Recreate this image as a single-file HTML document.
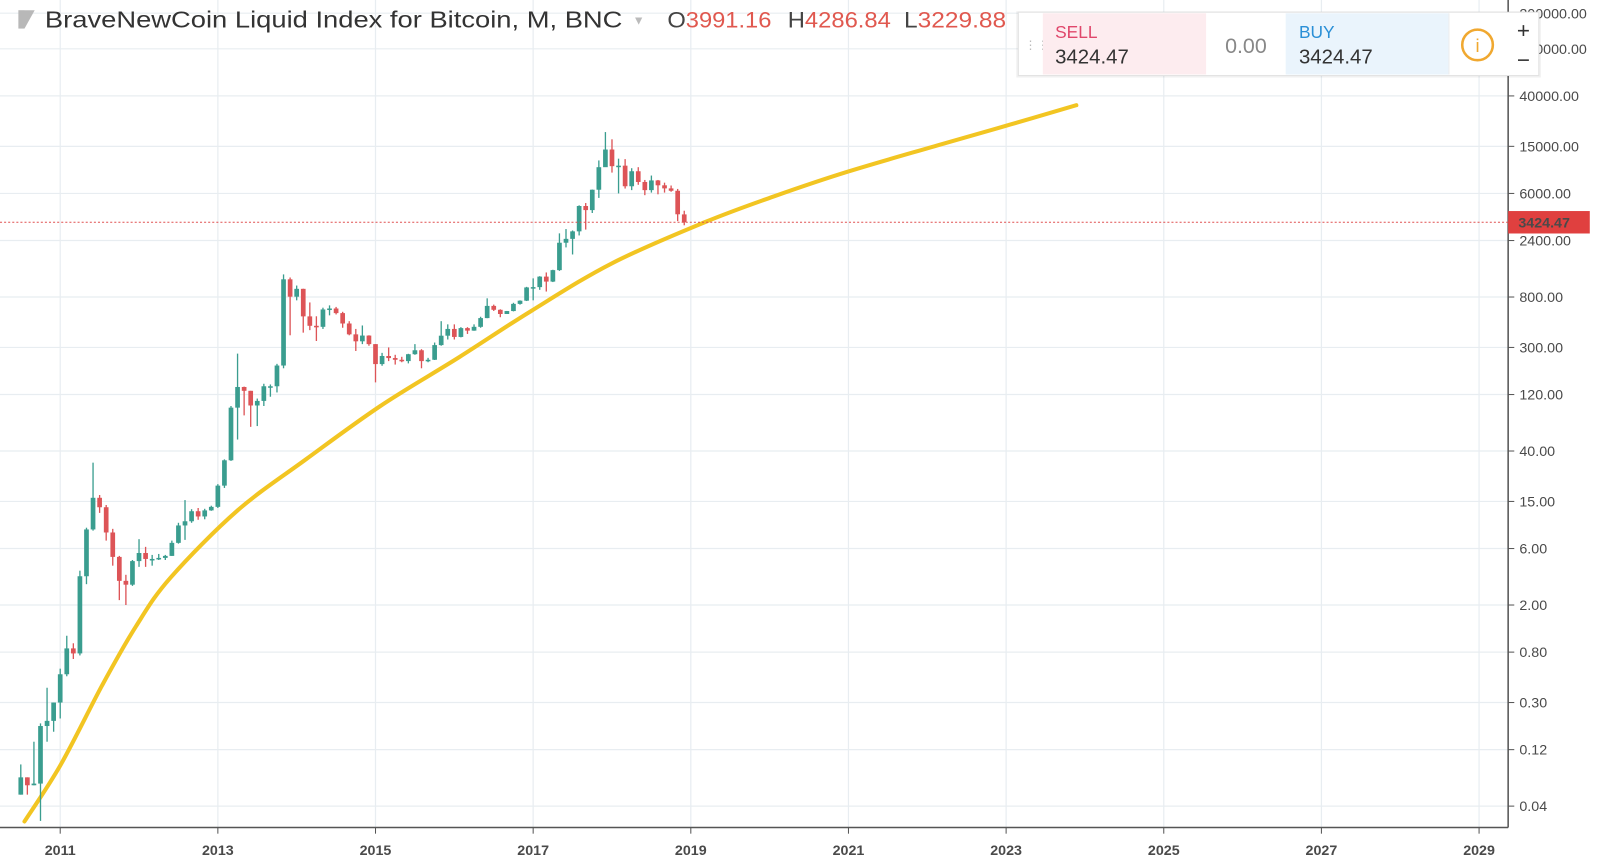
<!DOCTYPE html>
<html><head><meta charset="utf-8"><style>
html,body{margin:0;padding:0;background:#fff;width:1600px;height:862px;overflow:hidden;font-family:"Liberation Sans",sans-serif}
svg{position:absolute;left:0;top:0}
.ax{font-family:"Liberation Sans",sans-serif;font-size:14px;fill:#4a4a4a}
</style></head><body>
<svg id="chart" width="1600" height="862">
 <g transform="scale(1.0204)">
  <g id="grid"></g>
  <g id="curve"></g>
  <g id="candles"></g>
  <g id="axes"></g>
  <g>
    <rect x="18" y="10" width="6" height="18" fill="#b8b8b8"/>
    <polygon points="24,10 34,10 24,28" fill="#b8b8b8"/>
    <text x="44" y="27" font-size="23" fill="#333" textLength="566" lengthAdjust="spacingAndGlyphs">BraveNewCoin Liquid Index for Bitcoin, M, BNC</text>
    <text x="620" y="24" font-size="12" fill="#bbb">▼</text>
    <text x="654" y="27" font-size="22" fill="#444" textLength="102" lengthAdjust="spacingAndGlyphs">O<tspan fill="#e0584f">3991.16</tspan></text>
    <text x="772" y="27" font-size="22" fill="#444" textLength="101" lengthAdjust="spacingAndGlyphs">H<tspan fill="#e0584f">4286.84</tspan></text>
    <text x="886" y="27" font-size="22" fill="#444" textLength="100" lengthAdjust="spacingAndGlyphs">L<tspan fill="#e0584f">3229.88</tspan></text>
  </g>
  <g>
    <rect x="996" y="11" width="514" height="65" fill="#000" opacity="0.06"/>
    <rect x="998" y="12" width="510" height="62" fill="#fff" stroke="#e3e3e3"/>
    <text x="1004" y="48" font-size="12" fill="#bbb">⋮⋮</text>
    <rect x="1022" y="13" width="160" height="60" fill="#fdecef"/>
    <text x="1034" y="37" font-size="17" fill="#e0476b">SELL</text>
    <text x="1034" y="62" font-size="20" fill="#333">3424.47</text>
    <text x="1221" y="52" font-size="21" fill="#888" text-anchor="middle">0.00</text>
    <rect x="1260" y="13" width="160" height="60" fill="#eaf4fc"/>
    <text x="1273" y="37" font-size="17" fill="#2a8fd6">BUY</text>
    <text x="1273" y="62" font-size="20" fill="#333">3424.47</text>
    <line x1="1420" y1="13" x2="1420" y2="73" stroke="#eee"/>
    <circle cx="1448" cy="44" r="15" fill="none" stroke="#f0a830" stroke-width="2.5"/>
    <text x="1448" y="51" font-size="18" fill="#f0a830" text-anchor="middle">i</text>
    <text x="1493" y="37" font-size="22" fill="#333" text-anchor="middle">+</text>
    <text x="1493" y="66" font-size="22" fill="#333" text-anchor="middle">−</text>
  </g>
 </g>
</svg>
<script>
const NS='http://www.w3.org/2000/svg';
const startYear=2010, startMonth=6; // July 2010
const closes=[0.07,0.06,0.062,0.19,0.21,0.30,
0.52,0.86,0.78,3.5,8.7,16.1,13.4,8.2,5.1,3.2,2.97,4.7,
5.5,4.9,4.9,5.0,5.2,6.7,9.4,10.2,12.4,11.2,12.6,13.5,
20.4,33.4,93,139,129,97,106,141,141,211,1129,805,
938,549,457,448,628,640,585,478,387,338,378,320,
217,254,244,236,230,263,284,230,236,314,377,430,
368,437,416,448,531,673,624,575,609,700,745,964,
970,1190,1080,1350,2300,2480,2870,4700,4340,6450,10000,14100,
10200,10300,6900,9240,7500,6400,7730,7030,6620,6320,4000,3424.47];
const opens=[0.05,0.07,0.06,0.062,0.19,0.21,
0.30,0.52,0.86,0.78,3.5,8.7,16.1,13.4,8.2,5.1,3.2,2.97,
4.7,5.5,4.9,4.9,5.0,5.2,6.7,9.4,10.2,12.4,11.2,12.6,
13.5,20.4,33.4,93,139,129,97,106,141,141,211,1129,
805,938,549,457,448,628,640,585,478,387,338,378,
320,217,254,244,236,230,263,284,230,236,314,377,
430,368,437,416,448,531,673,624,575,609,700,745,
964,970,1190,1080,1350,2300,2480,2870,4700,4340,6450,10000,
14100,10200,10300,6900,9240,7500,6400,7730,7030,6620,6320,3991.16];
const highs=[0.09,0.07,0.14,0.2,0.4,0.3,
0.58,1.1,0.95,3.9,9.0,31.9,17,14,8.8,5.2,3.6,4.8,
7.2,6.2,5.3,5.4,5.3,7.0,9.9,15.4,12.9,13.2,13.0,13.8,
21,34,96,266,140,129,111,148,146,218,1242,1170,
1000,940,720,550,650,680,660,600,500,430,460,380,
320,270,300,260,250,265,320,290,245,330,500,470,
470,445,445,470,545,780,690,630,610,715,750,975,
1150,1200,1290,1360,2760,3000,2920,4760,4980,6470,11400,19800,
17200,11800,11700,9800,10000,7800,8500,7800,7400,7000,6550,4286.84];
const lows=[0.05,0.05,0.06,0.03,0.14,0.17,
0.22,0.5,0.7,0.75,3.0,8.5,12,7,4.3,2.2,2.0,2.9,
4.2,4.2,4.3,4.8,4.8,5.2,6.6,7.1,9.9,10.5,10.6,12.5,
13.2,19.5,33,50,80,64,65,96,115,125,200,380,
750,400,420,340,430,560,570,440,380,280,320,310,
152,210,230,215,225,220,260,200,225,235,310,350,
350,365,390,415,440,530,610,540,590,605,690,740,
750,920,890,1070,1330,2100,1830,2650,2970,4100,5500,10900,
9000,6000,6600,6400,7100,5800,6100,5900,6100,6200,3500,3229.88];
const curveYears=[2010.547,2011.0,2011.53,2011.96,2012.40,2013.25,2014.12,2015.06,2016.06,2016.97,2018.0,2019.17,2020.07,2021.0,2022.15,2023.05,2023.89];
const curvePrices=[0.0297,0.088,0.416,1.32,3.41,12.6,34.1,95.8,248,607,1542,3413,5716,9210,15420,22900,33400];
const priceTicks=[0.04,0.12,0.30,0.80,2.00,6.00,15.00,40.00,120.00,300.00,800.00,2400.00,6000.00,15000.00,40000.00,100000.00,200000.00];
const yearTicks=[2011,2013,2015,2017,2019,2021,2023,2025,2027,2029];
const lastPrice=3424.47;

function xS(t){return 59+(t-2011)*77.25;}
function yS(v){return 790-116*Math.log10(v/0.04);}
function mk(tag,attrs,parent){const e=document.createElementNS(NS,tag);for(const k in attrs)e.setAttribute(k,attrs[k]);parent.appendChild(e);return e;}

const grid=document.getElementById('grid'),axes=document.getElementById('axes'),cg=document.getElementById('candles'),cur=document.getElementById('curve');
priceTicks.forEach(v=>{
  const y=yS(v);
  const l=mk('line',{x1:0,x2:1478,y1:y,y2:y,stroke:'#e8edf1','stroke-width':1.2},grid);
  
  
  const tk=mk('line',{x1:1478,x2:1484,y1:y,y2:y,stroke:'#555'},axes);
  
  
  const t=mk('text',{x:1489,y:y+5,class:'ax'},axes);
  t.textContent=v.toFixed(2);
  
  
});
yearTicks.forEach(yr=>{
  const x=xS(yr);
  const l=mk('line',{x1:x,x2:x,y1:0,y2:811,stroke:'#e8edf1','stroke-width':1.2},grid);
  
  
  const tk=mk('line',{x1:x,x2:x,y1:811,y2:817,stroke:'#555'},axes);
  
  
  const t=mk('text',{x:x,y:838,class:'ax','text-anchor':'middle','font-weight':'bold',fill:'#555'},axes);
  t.textContent=yr;
  
  
});
const xa=mk('line',{x1:0,x2:1478,y1:811,y2:811,stroke:'#555','stroke-width':1.5},axes);


const ya=mk('line',{x1:1478,x2:1478,y1:0,y2:811,stroke:'#555','stroke-width':1.5},axes);



// trend curve (Catmull-Rom smoothing)
const pts=curveYears.map((t,i)=>[xS(t),yS(curvePrices[i])]);
let d='M'+pts[0][0].toFixed(1)+','+pts[0][1].toFixed(1);
for(let i=0;i<pts.length-1;i++){
  const p0=pts[Math.max(0,i-1)],p1=pts[i],p2=pts[i+1],p3=pts[Math.min(pts.length-1,i+2)];
  const c1=[p1[0]+(p2[0]-p0[0])/6,p1[1]+(p2[1]-p0[1])/6];
  const c2=[p2[0]-(p3[0]-p1[0])/6,p2[1]-(p3[1]-p1[1])/6];
  d+='C'+c1[0].toFixed(1)+','+c1[1].toFixed(1)+' '+c2[0].toFixed(1)+','+c2[1].toFixed(1)+' '+p2[0].toFixed(1)+','+p2[1].toFixed(1);
}
const path=mk('path',{d:d,fill:'none',stroke:'#f2c522','stroke-width':4,'stroke-linecap':'round','stroke-linejoin':'round'},cur);



// candles
closes.forEach((c,i)=>{
  const t=startYear+(startMonth+i)/12;
  const x=xS(t), o=opens[i];
  const up=c>=o, col=up?'#3a9d8f':'#dd5457';
  const g=mk('g',{},cg);
  
  
  mk('line',{x1:x,x2:x,y1:yS(highs[i]),y2:yS(lows[i]),stroke:col,'stroke-width':1.3},g);
  const yt=yS(Math.max(o,c)), yb=yS(Math.min(o,c));
  mk('rect',{x:x-2.3,y:yt,width:4.6,height:Math.max(1.5,yb-yt),fill:col},g);
});

// last price line
const ly=yS(lastPrice);
const pl=mk('line',{x1:0,x2:1478,y1:ly,y2:ly,stroke:'#e05050','stroke-width':1,'stroke-dasharray':'2,2'},axes);


const pb=mk('rect',{x:1478,y:ly-11,width:80,height:22,fill:'#e0403f'},axes);


const pt=mk('text',{x:1488,y:ly+5,class:'ax',fill:'#fff','font-weight':'bold'},axes);
pt.textContent=lastPrice.toFixed(2);
pt.setAttribute('fill','#fff');


</script>
</body></html>
